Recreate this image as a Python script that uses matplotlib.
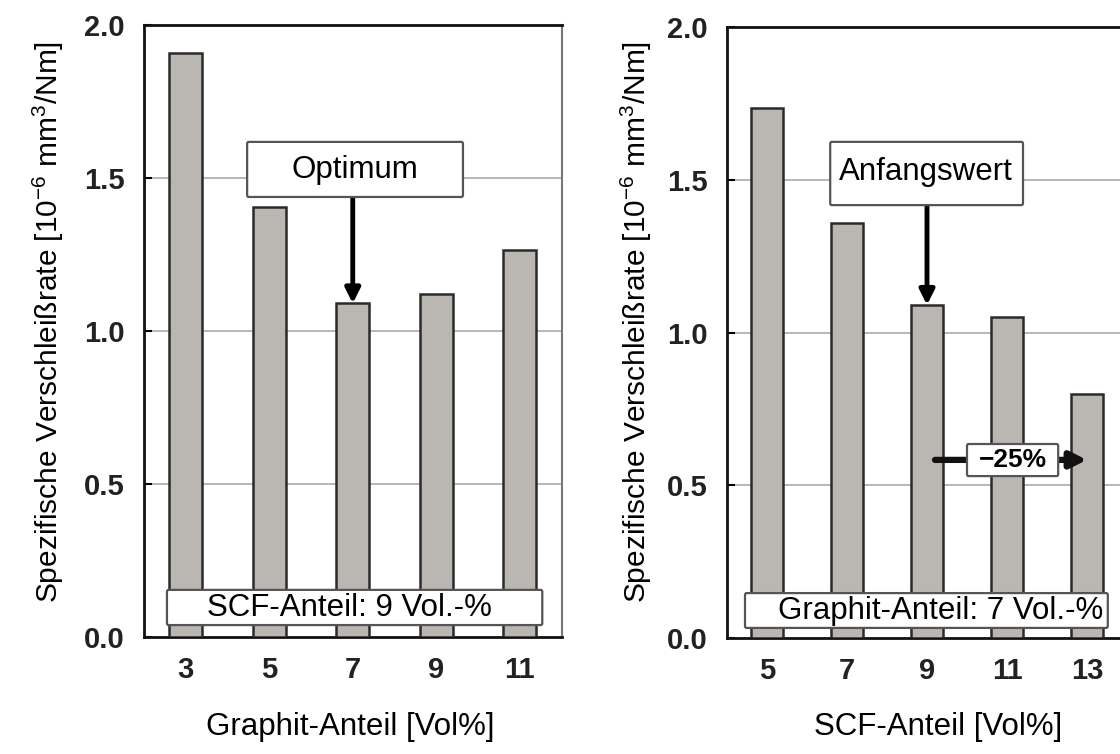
import matplotlib
matplotlib.use("Agg")
import matplotlib.pyplot as plt
from matplotlib.patches import FancyBboxPatch

# === Data ===
graphit_ticks = ["3", "5", "7", "9", "11"]
graphit_rate = [1.91, 1.405, 1.09, 1.12, 1.265]   # SCF fixed at 9 Vol.-%

scf_ticks = ["5", "7", "9", "11", "13"]
scf_rate = [1.735, 1.36, 1.09, 1.05, 0.80]        # Graphit fixed at 7 Vol.-%

ylabel = "Spezifische Verschleißrate [10$^{-6}$ mm$^{3}$/Nm]"

# === Style ===
plt.rcParams['font.family'] = ['Liberation Sans', 'DejaVu Sans']
plt.rcParams['mathtext.fontset'] = 'custom'
plt.rcParams['mathtext.rm'] = 'Liberation Sans'
plt.rcParams['mathtext.default'] = 'regular'

bar_color = "#bab6b2"
edge_color = "#2a2a2a"
fs = 22.5


def setup_axes(ax, ticks, values):
    x = range(len(values))
    ax.bar(x, values, width=0.4, color=bar_color, edgecolor=edge_color,
           linewidth=1.8, zorder=3)
    ax.set_xlim(-0.5, len(values) - 0.5)
    ax.set_ylim(0, 2.0)
    ax.set_xticks(list(x))
    ax.set_xticklabels(ticks, fontsize=21, fontweight='bold', color='#222222')
    ax.set_yticks([0, 0.5, 1.0, 1.5, 2.0])
    ax.set_yticklabels(["0.0", "0.5", "1.0", "1.5", "2.0"], fontsize=21,
                       fontweight='bold', color='#222222')
    ax.tick_params(axis='y', direction='in', length=6, width=1.5, pad=14)
    ax.tick_params(axis='x', length=0, pad=14)
    for y in [0.5, 1.0, 1.5]:
        ax.axhline(y, color='#aaaaaa', lw=1.2, zorder=1)
    for s in ['left', 'top', 'bottom']:
        ax.spines[s].set_linewidth(2.0)
        ax.spines[s].set_color('#111111')
    ax.spines['right'].set_linewidth(1.5)
    ax.spines['right'].set_color('#777777')


def label_box(ax, x0, x1, y0, y1, text, tx, ty, ha='center', size=fs, weight='normal'):
    box = FancyBboxPatch((x0, y0), x1 - x0, y1 - y0,
                         boxstyle="round,pad=0,rounding_size=0.02",
                         facecolor='white', edgecolor='#555555', lw=1.6,
                         zorder=5, mutation_aspect=0.3)
    ax.add_patch(box)
    ax.text(tx, ty, text, ha=ha, va='center', fontsize=size,
            fontweight=weight, zorder=6)


fig = plt.figure(figsize=(11.2, 7.54), dpi=100)

# === Left panel: Graphit-Anteil ===
ax1 = fig.add_axes([144 / 1120, 1 - 637 / 754, 417.5 / 1120, 612 / 754])
setup_axes(ax1, graphit_ticks, graphit_rate)
ax1.annotate("", xy=(2, graphit_rate[2]), xytext=(2, 1.438),
             arrowprops=dict(arrowstyle='-|>', lw=3.5, color='black',
                             mutation_scale=22, shrinkA=0, shrinkB=0),
             zorder=4)
label_box(ax1, 0.735, 3.32, 1.438, 1.618, "Optimum", 2.03, 1.526)
label_box(ax1, -0.225, 4.27, 0.039, 0.154, "SCF-Anteil: 9 Vol.-%", 1.96, 0.096)

# === Right panel: SCF-Anteil ===
ax2 = fig.add_axes([727 / 1120, 1 - 638 / 754, 400 / 1120, 611 / 754])
setup_axes(ax2, scf_ticks, scf_rate)
ax2.annotate("", xy=(2, scf_rate[2]), xytext=(2, 1.417),
             arrowprops=dict(arrowstyle='-|>', lw=3.5, color='black',
                             mutation_scale=22, shrinkA=0, shrinkB=0),
             zorder=4)
label_box(ax2, 0.79, 3.2, 1.417, 1.624, "Anfangswert", 1.99, 1.525)

# -25% arrow towards the 13 Vol.-% bar
ax2.annotate("", xy=(4, 0.583), xytext=(2.1, 0.583),
             arrowprops=dict(arrowstyle='-|>', lw=4.5, color='#111111',
                             mutation_scale=24, shrinkA=0, shrinkB=0),
             zorder=4)
label_box(ax2, 2.5, 3.64, 0.53, 0.635, "\u221225%", 3.07, 0.583,
          size=19, weight='bold')
label_box(ax2, -0.275, 4.26, 0.033, 0.147, "Graphit-Anteil: 7 Vol.-%", 4.2, 0.09,
          ha='right')

# === Axis titles ===
fig.text(48 / 1120, 1 - 322 / 754, ylabel, rotation=90, ha='center', va='center',
         fontsize=21.5)
fig.text(636 / 1120, 1 - 322 / 754, ylabel, rotation=90, ha='center', va='center',
         fontsize=21.5)
fig.text(350 / 1120, 1 - 727 / 754, "Graphit-Anteil [Vol%]", ha='center',
         va='center', fontsize=fs)
fig.text(938 / 1120, 1 - 727 / 754, "SCF-Anteil [Vol%]", ha='center',
         va='center', fontsize=fs)

plt.savefig("out.png", dpi=100)
plt.close()
